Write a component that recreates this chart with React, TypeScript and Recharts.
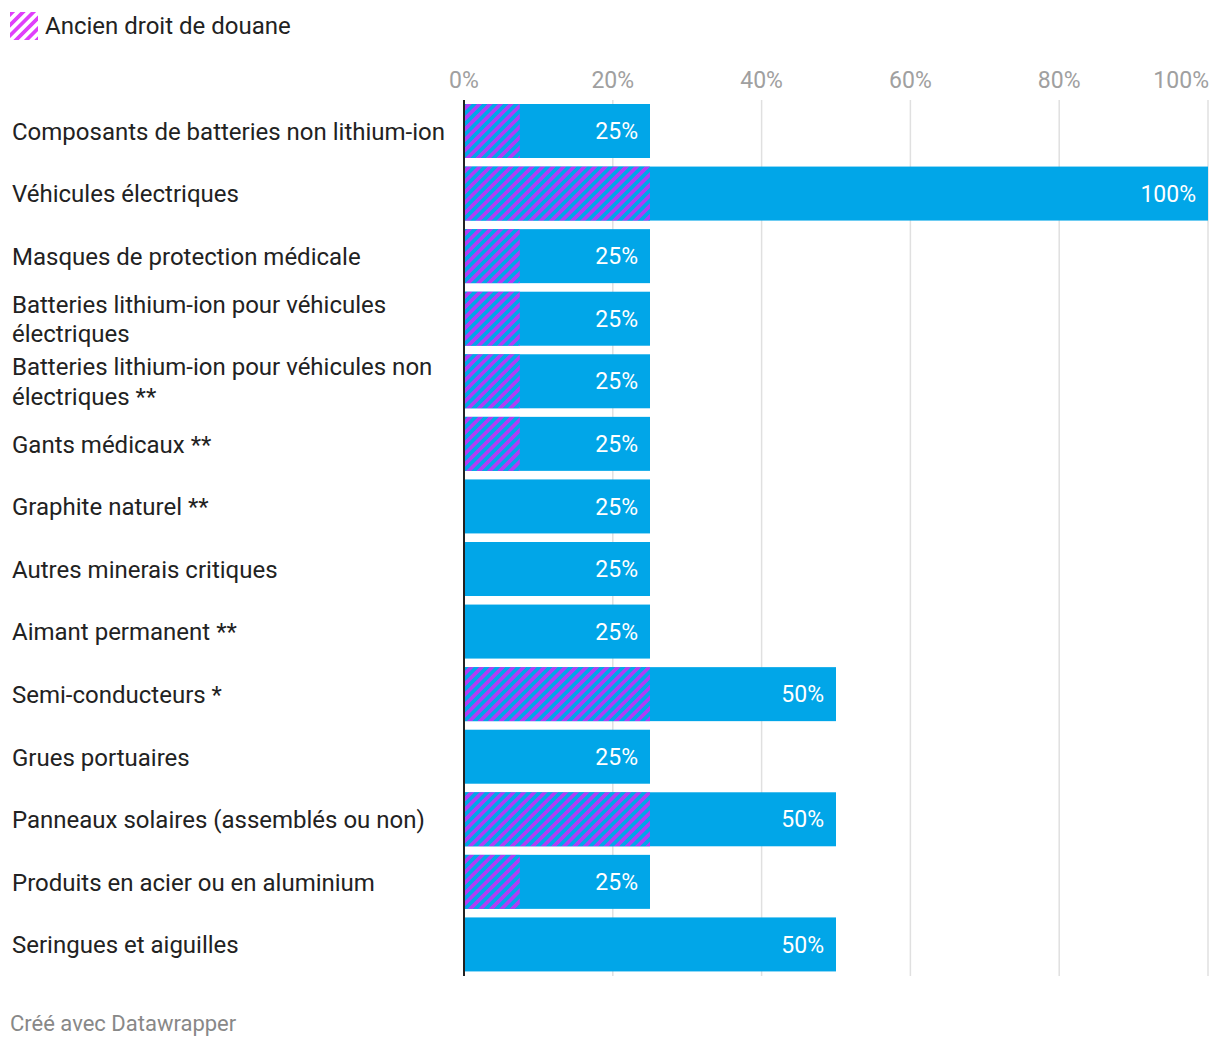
import React from "react";
import { BarChart, Bar, XAxis, YAxis, CartesianGrid, LabelList } from "recharts";

const categories: string[] = [
  "Composants de batteries non lithium-ion",
  "Véhicules électriques",
  "Masques de protection médicale",
  "Batteries lithium-ion pour véhicules\nélectriques",
  "Batteries lithium-ion pour véhicules non\nélectriques **",
  "Gants médicaux **",
  "Graphite naturel **",
  "Autres minerais critiques",
  "Aimant permanent **",
  "Semi-conducteurs *",
  "Grues portuaires",
  "Panneaux solaires (assemblés ou non)",
  "Produits en acier ou en aluminium",
  "Seringues et aiguilles",
];
const newRate: number[] = [25, 100, 25, 25, 25, 25, 25, 25, 25, 50, 25, 50, 25, 50];
const oldRate: number[] = [7.5, 25, 7.5, 7.5, 7.5, 7.5, 0, 0, 0, 25, 0, 25, 7.5, 0];
const xTicks: number[] = [0, 20, 40, 60, 80, 100];
const legendLabel = "Ancien droit de douane";
const footerText = "Créé avec Datawrapper";

const data = categories.map((name, i) => ({ name, value: newRate[i], old: oldRate[i] }));

const BLUE = "#01a6e8";
const PURPLE = "#b23cf5";
const FONT = "Roboto, sans-serif";
const P = 7.4;

const BarShape = (props: any) => {
  const { x, y, width, height, payload } = props;
  const oldW = payload.value ? (width * payload.old) / payload.value : 0;
  return (
    <g>
      <rect x={x} y={y} width={width} height={height} fill={BLUE} />
      {oldW > 0 && <rect x={x} y={y} width={oldW} height={height} fill="url(#hatchBar)" />}
    </g>
  );
};

const XTick = (props: any) => {
  const { x, payload } = props;
  const last = payload.value === 100;
  return (
    <text
      x={last ? x + 1 : x}
      y={80}
      textAnchor={last ? "end" : "middle"}
      fill="#a0a0a0"
      fontSize={23}
      fontFamily={FONT}
    >
      {payload.value}%
    </text>
  );
};

const YTick = (props: any) => {
  const { y, payload } = props;
  const lines = String(payload.value).split("\n");
  const lh = 29.5;
  const start = y - ((lines.length - 1) * lh) / 2;
  return (
    <text x={4} y={start} fill="#222" fontSize={24} fontFamily={FONT} textAnchor="start">
      {lines.map((l, i) => (
        <tspan key={i} x={4} y={start + i * lh} dy="0.36em">
          {l}
        </tspan>
      ))}
    </text>
  );
};

export default function App() {
  return (
    <div style={{ position: "relative", width: 1204, height: 1040, fontFamily: FONT }}>
      <svg width={0} height={0} style={{ position: "absolute" }}>
        <defs>
          <pattern id="hatchBar" width={P} height={P} patternUnits="userSpaceOnUse" patternTransform="rotate(45)">
            <rect x={0} y={0} width={P} height={P} fill={BLUE} />
            <rect x={0} y={0} width={P / 2} height={P} fill={PURPLE} />
          </pattern>
          <pattern id="hatchLegend" width={P} height={P} patternUnits="userSpaceOnUse" patternTransform="rotate(45)">
            <rect x={0} y={0} width={P} height={P} fill="#ffffff" />
            <rect x={0} y={0} width={P / 2} height={P} fill="#e040fb" />
          </pattern>
        </defs>
      </svg>
      <div style={{ position: "absolute", left: 2, top: 4, display: "flex", alignItems: "center" }}>
        <svg width={28} height={28} style={{ display: "block" }}>
          <rect x={0} y={0} width={28} height={28} fill="url(#hatchLegend)" />
        </svg>
        <span style={{ marginLeft: 7, fontSize: 24, color: "#222", lineHeight: "28px" }}>{legendLabel}</span>
      </div>
      <BarChart
        width={1204}
        height={972}
        data={data}
        layout="vertical"
        margin={{ top: 0, right: 4, bottom: 4, left: 0 }}
        barCategoryGap={8.6}
      >
        <CartesianGrid horizontal={false} vertical={true} stroke="#e0e0e0" strokeWidth={1.5} />
        <XAxis
          type="number"
          orientation="top"
          domain={[0, 100]}
          ticks={xTicks}
          height={92}
          axisLine={false}
          tickLine={false}
          tick={<XTick />}
          interval={0}
        />
        <YAxis
          type="category"
          dataKey="name"
          width={456}
          axisLine={{ stroke: "#222", strokeWidth: 2 }}
          tickLine={false}
          tick={<YTick />}
          interval={0}
        />
        <Bar dataKey="value" barSize={54} fill={BLUE} shape={<BarShape />} isAnimationActive={false}>
          <LabelList
            dataKey="value"
            position="insideRight"
            offset={12}
            fill="#ffffff"
            fontSize={23}
            fontFamily={FONT}
            formatter={(v: any) => `${v}%`}
          />
        </Bar>
      </BarChart>
      <div style={{ position: "absolute", left: 2, top: 1003, fontSize: 22, color: "#888", whiteSpace: "nowrap" }}>
        {footerText}
      </div>
    </div>
  );
}
